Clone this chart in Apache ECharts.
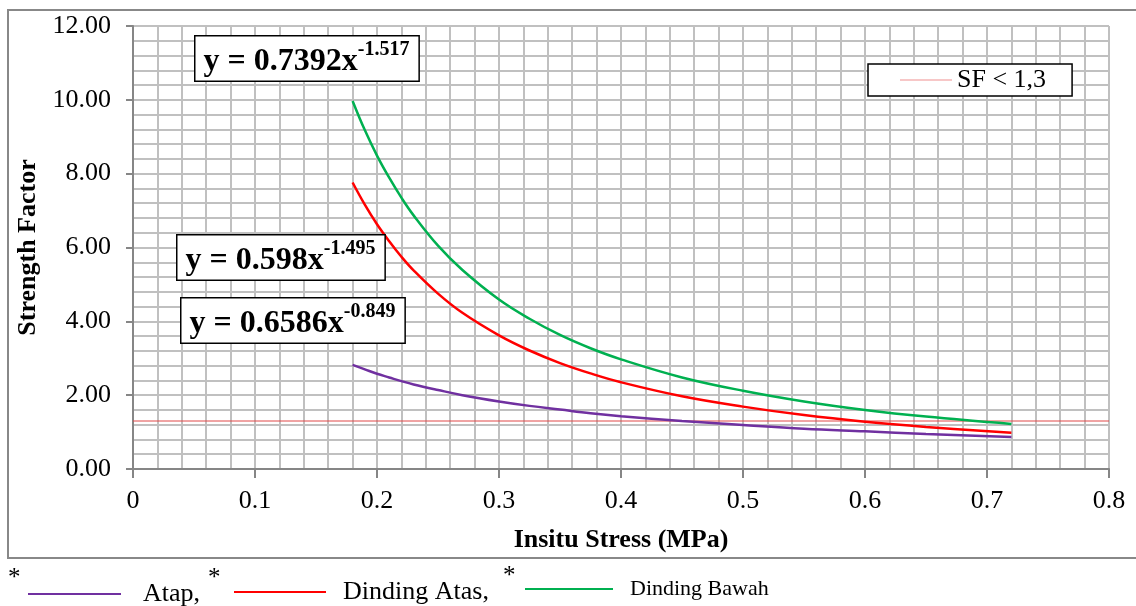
<!DOCTYPE html>
<html>
<head>
<meta charset="utf-8">
<script src="https://cdn.jsdelivr.net/npm/echarts@6/dist/echarts.min.js"></script>
<style>
  html, body { margin: 0; padding: 0; background: #fff; }
  #chart { width: 1136px; height: 606px; }
</style>
</head>
<body>
<div id="chart"></div>
<script>
// insitu stress (MPa)
const stress = [0.18, 0.19, 0.20, 0.21, 0.22, 0.23, 0.25, 0.27, 0.30, 0.325, 0.35, 0.375, 0.40, 0.45, 0.50, 0.55, 0.60, 0.65, 0.72];
// strength factor per location
const atap = [2.82, 2.70, 2.58, 2.48, 2.38, 2.29, 2.14, 2.00, 1.83, 1.71, 1.61, 1.51, 1.43, 1.30, 1.19, 1.09, 1.02, 0.95, 0.87];
const dindingAtas = [7.76, 7.16, 6.63, 6.17, 5.75, 5.38, 4.75, 4.23, 3.62, 3.21, 2.87, 2.59, 2.35, 1.97, 1.69, 1.46, 1.28, 1.14, 0.98];
const dindingBawah = [9.97, 9.18, 8.49, 7.89, 7.35, 6.87, 6.05, 5.39, 4.59, 4.07, 3.63, 3.27, 2.97, 2.48, 2.12, 1.83, 1.60, 1.42, 1.22];
// SF < 1,3 limit line
const sfX = [0, 0.8];
const sfY = [1.3, 1.3];

const serifFont = '"Liberation Serif", "DejaVu Serif", serif';

function pairs(xs, ys) {
  return xs.map((x, i) => [x, ys[i]]);
}

const chart = echarts.init(document.getElementById('chart'));

const gridStyle = { color: '#c0c0c0', width: 2 };

function eqBox(x, y, coef, pow) {
  return {
    type: 'text',
    left: x,
    top: y,
    z: 10,
    style: {
      text: '{a|y = ' + coef + 'x}{b|' + pow + '}',
      fill: '#000',
      backgroundColor: '#fff',
      borderColor: '#000',
      borderWidth: 1.5,
      padding: [3, 9, 3, 8],
      rich: {
        a: { fontFamily: serifFont, fontSize: 32, fontWeight: 'bold', lineHeight: 38, verticalAlign: 'bottom' },
        b: { fontFamily: serifFont, fontSize: 20, fontWeight: 'bold', lineHeight: 18, verticalAlign: 'top' }
      }
    }
  };
}

function star(x, y) {
  return {
    type: 'text',
    left: x,
    top: y,
    style: { text: '*', fill: '#000', font: '25px ' + serifFont }
  };
}

const option = {
  backgroundColor: '#fff',
  animation: false,
  textStyle: { fontFamily: serifFont, color: '#000' },
  grid: { left: 133, right: 27, top: 26, bottom: 137 },
  xAxis: {
    type: 'value',
    min: 0,
    max: 0.8,
    interval: 0.1,
    name: 'Insitu Stress (MPa)',
    nameLocation: 'middle',
    nameGap: 58,
    nameTextStyle: { fontFamily: serifFont, fontSize: 26, fontWeight: 'bold', color: '#000' },
    axisLine: { show: true, onZero: false, lineStyle: { color: '#868686', width: 2 } },
    axisTick: { show: true, length: 9, lineStyle: { color: '#868686', width: 2 } },
    axisLabel: { margin: 19, fontFamily: serifFont, fontSize: 26, color: '#000' },
    splitLine: { show: true, lineStyle: gridStyle },
    minorTick: { show: false, splitNumber: 5 },
    minorSplitLine: { show: true, lineStyle: gridStyle }
  },
  yAxis: {
    type: 'value',
    min: 0,
    max: 12,
    interval: 2,
    name: 'Strength Factor',
    nameLocation: 'middle',
    nameGap: 88,
    nameRotate: 90,
    nameTextStyle: { fontFamily: serifFont, fontSize: 26, fontWeight: 'bold', color: '#000' },
    axisLine: { show: true, lineStyle: { color: '#868686', width: 2 } },
    axisTick: { show: true, length: 7, lineStyle: { color: '#868686', width: 2 } },
    axisLabel: {
      margin: 22,
      fontFamily: serifFont,
      fontSize: 26,
      color: '#000',
      formatter: v => v.toFixed(2)
    },
    splitLine: { show: true, lineStyle: gridStyle },
    minorTick: { show: false, splitNumber: 5 },
    minorSplitLine: { show: true, lineStyle: gridStyle }
  },
  legend: [
    {
      data: ['SF < 1,3'],
      left: 868,
      top: 64,
      icon: 'rect',
      itemWidth: 52,
      itemHeight: 1,
      itemGap: 0,
      padding: [3, 26, 3, 32],
      backgroundColor: '#fff',
      borderColor: '#000',
      borderWidth: 1.5,
      borderRadius: 0,
      textStyle: { fontFamily: serifFont, fontSize: 26, color: '#000', padding: [0, 0, 0, 0] }
    },
    {
      data: ['Atap'],
      left: 28,
      top: 581,
      icon: 'rect',
      itemWidth: 93,
      itemHeight: 2,
      padding: 0,
      formatter: n => n + ',',
      textStyle: { fontFamily: serifFont, fontSize: 26, color: '#000', padding: [0, 0, 0, 17] }
    },
    {
      data: ['Dinding Atas'],
      left: 234,
      top: 579,
      icon: 'rect',
      itemWidth: 92,
      itemHeight: 2,
      padding: 0,
      formatter: n => n + ',',
      textStyle: { fontFamily: serifFont, fontSize: 26, color: '#000', padding: [0, 0, 0, 12] }
    },
    {
      data: ['Dinding Bawah'],
      left: 525,
      top: 578,
      icon: 'rect',
      itemWidth: 88,
      itemHeight: 2,
      padding: 0,
      textStyle: { fontFamily: serifFont, fontSize: 22, color: '#000', padding: [2, 0, 0, 12] }
    }
  ],
  series: [
    {
      name: 'SF < 1,3',
      type: 'line',
      data: pairs(sfX, sfY),
      symbol: 'none',
      lineStyle: { color: '#e04848', width: 1 },
      itemStyle: { color: '#f09090' },
      z: 3
    },
    {
      name: 'Atap',
      type: 'line',
      data: pairs(stress, atap),
      smooth: 0.4,
      symbol: 'none',
      lineStyle: { color: '#7030a0', width: 2.5 },
      itemStyle: { color: '#7030a0' },
      z: 4
    },
    {
      name: 'Dinding Atas',
      type: 'line',
      data: pairs(stress, dindingAtas),
      smooth: 0.4,
      symbol: 'none',
      lineStyle: { color: '#ff0000', width: 2.5 },
      itemStyle: { color: '#ff0000' },
      z: 4
    },
    {
      name: 'Dinding Bawah',
      type: 'line',
      data: pairs(stress, dindingBawah),
      smooth: 0.4,
      symbol: 'none',
      lineStyle: { color: '#00b050', width: 2.5 },
      itemStyle: { color: '#00b050' },
      z: 4
    }
  ],
  graphic: [
    // outer chart frame
    {
      type: 'rect',
      shape: { x: 8, y: 10, width: 1140, height: 548 },
      style: { fill: 'none', stroke: '#888', lineWidth: 2 },
      silent: true,
      z: -1
    },
    // trendline equations
    eqBox(194, 35, '0.7392', '-1.517'),
    eqBox(176, 234, '0.598', '-1.495'),
    eqBox(180, 297, '0.6586', '-0.849'),
    // asterisks in front of the bottom legend
    star(8, 566),
    star(208, 566),
    star(503, 564)
  ]
};

chart.setOption(option);
</script>
</body>
</html>
